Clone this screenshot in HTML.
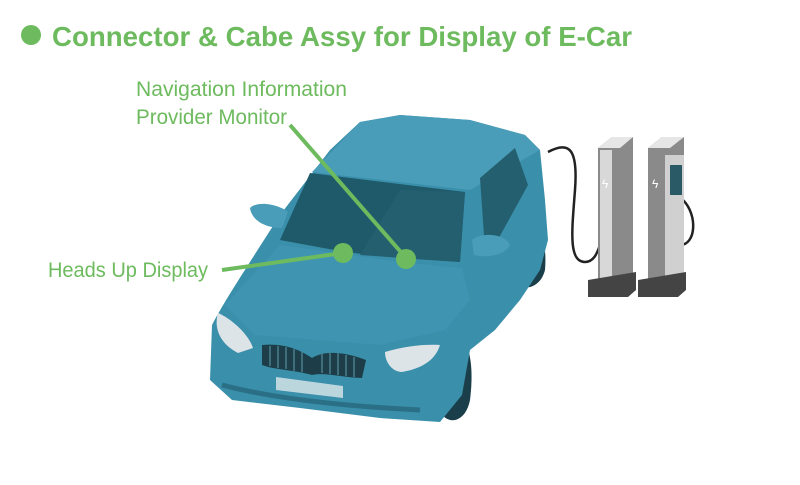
<!DOCTYPE html>
<html><head><meta charset="utf-8"><style>
body{margin:0;width:800px;height:480px;background:#fff;overflow:hidden;font-family:"Liberation Sans",sans-serif}
</style></head><body>
<svg width="800" height="480" xmlns="http://www.w3.org/2000/svg">
<circle cx="31" cy="35" r="10" fill="#6dbb5e"/>
<text x="52" y="46" font-family="Liberation Sans, sans-serif" font-weight="bold" font-size="28" fill="#6dbb5e" textLength="580" lengthAdjust="spacingAndGlyphs">Connector &amp; Cabe Assy for Display of E-Car</text>
<g font-family="Liberation Sans, sans-serif" font-size="21" fill="#6dbb5e">
<text x="136" y="96" textLength="211" lengthAdjust="spacingAndGlyphs">Navigation Information</text>
<text x="136" y="124" textLength="151" lengthAdjust="spacingAndGlyphs">Provider Monitor</text>
<text x="48" y="277" textLength="160" lengthAdjust="spacingAndGlyphs">Heads Up Display</text>
</g>
<!-- cable -->
<path d="M548,152 C570,140 578,150 575,190 C572,230 568,262 585,262 C595,262 598,250 600,245" fill="none" stroke="#222" stroke-width="2.5"/>
<path d="M683,200 C698,215 696,245 680,245" fill="none" stroke="#222" stroke-width="2.5"/>
<!-- chargers -->
<polygon points="598,148 612,137 633,137 633,285 598,285" fill="#8a8a8a"/>
<polygon points="598,148 612,137 633,137 620,148" fill="#e6e6e6"/>
<rect x="600" y="150" width="12" height="132" fill="#d8d8d8"/>
<polygon points="588,280 636,272 636,290 628,297 588,297" fill="#444"/>
<polygon points="648,148 662,137 684,137 684,285 648,285" fill="#8a8a8a"/>
<polygon points="648,148 662,137 684,137 670,148" fill="#e6e6e6"/>
<rect x="665" y="155" width="19" height="125" fill="#d0d0d0"/>
<rect x="670" y="165" width="12" height="30" fill="#2a5a66"/>
<polygon points="638,280 686,272 686,290 678,297 638,297" fill="#444"/>
<text x="602" y="188" font-size="12" fill="#fff">ϟ</text>
<text x="652" y="188" font-size="12" fill="#fff">ϟ</text>
<!-- wheels -->
<path d="M515,215 C535,210 548,235 545,270 C540,290 520,292 515,280 Z" fill="#1b3f4a"/>
<path d="M448,335 C468,330 475,360 470,400 C465,425 445,425 440,410 Z" fill="#1b3f4a"/>
<!-- body -->
<path d="M212,325 C225,300 245,270 280,215 L330,150 L360,122 L400,115 L470,120 L525,135 L540,150 L545,200 L548,240 L540,270 L520,300 L495,330 L470,350 L462,395 L440,422 L380,418 L300,408 L232,400 L210,380 Z" fill="#3a8fab"/>
<path d="M360,122 L400,115 L470,120 L525,135 L540,150 L470,190 L312,172 Z" fill="#4a9db8"/>
<path d="M225,305 L280,245 L400,262 L462,268 L470,300 L445,330 L380,345 L255,335 Z" fill="#3f95b1"/>
<!-- windshield -->
<polygon points="310,173 465,192 460,262 400,258 345,252 280,240" fill="#1f5a6b"/>
<polygon points="400,190 465,192 460,262 360,255" fill="#245f70"/>
<!-- side windows -->
<polygon points="480,178 515,148 528,185 495,245 485,250" fill="#245f70"/>
<!-- mirrors -->
<path d="M250,208 C258,200 280,205 288,212 L282,228 C268,228 252,222 250,208 Z" fill="#4a9db8"/>
<path d="M472,240 C480,232 505,233 510,245 C505,256 485,258 474,255 Z" fill="#4a9db8"/>
<!-- headlights -->
<path d="M218,313 C230,318 248,333 253,348 L238,353 C222,345 213,330 218,313 Z" fill="#dde4e8"/>
<path d="M385,352 C405,346 425,344 440,345 C436,358 425,368 402,372 C392,372 385,362 385,352 Z" fill="#dde4e8"/>
<!-- grille -->
<path d="M262,345 C285,343 300,350 312,358 C325,350 345,352 366,360 L362,378 C345,378 325,372 312,375 C295,370 275,370 262,365 Z" fill="#1d3e48"/>
<g stroke="#4a7f8e" stroke-width="1.5">
<line x1="270" y1="346" x2="270" y2="366"/><line x1="278" y1="346" x2="278" y2="368"/><line x1="286" y1="347" x2="286" y2="369"/><line x1="294" y1="349" x2="294" y2="371"/><line x1="302" y1="352" x2="302" y2="372"/>
<line x1="322" y1="353" x2="322" y2="373"/><line x1="330" y1="352" x2="330" y2="374"/><line x1="338" y1="353" x2="338" y2="375"/><line x1="346" y1="355" x2="346" y2="376"/><line x1="354" y1="357" x2="354" y2="377"/>
</g>
<polygon points="276,377 343,386 343,398 276,390" fill="#bcd6de"/>
<path d="M222,385 C260,395 320,405 420,410" fill="none" stroke="#2a6f86" stroke-width="5"/>
<!-- callout lines -->
<line x1="290" y1="125" x2="406" y2="258" stroke="#6dbb5e" stroke-width="4"/>
<line x1="222" y1="270" x2="343" y2="253" stroke="#6dbb5e" stroke-width="4"/>
<circle cx="343" cy="253" r="10" fill="#6dbb5e"/>
<circle cx="406" cy="259" r="10" fill="#6dbb5e"/>
</svg>
</body></html>
